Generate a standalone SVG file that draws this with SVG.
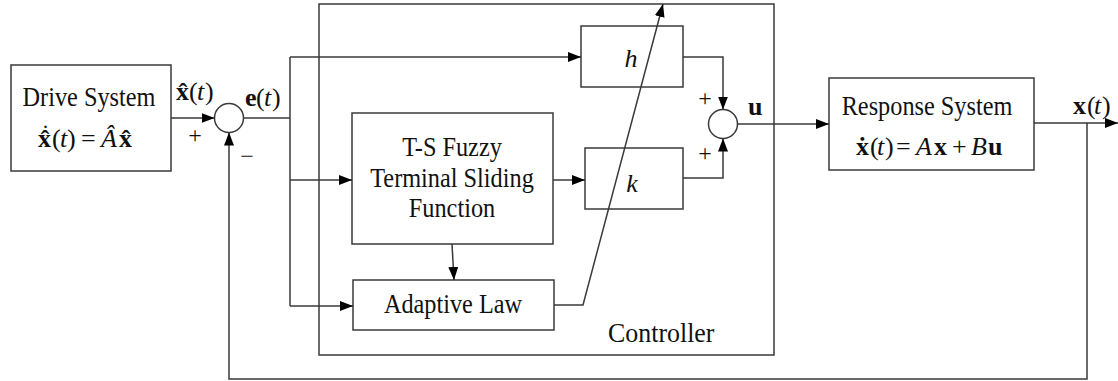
<svg xmlns="http://www.w3.org/2000/svg" width="1118" height="381" viewBox="0 0 1118 381">
<style>
.box{fill:#fff;stroke:#3a3a3a;stroke-width:1.5}
.ln{fill:none;stroke:#3a3a3a;stroke-width:1.5}
text{font-family:'Liberation Serif','Times New Roman',serif;fill:#111}
.t{font-size:27px}
.m{font-size:26px}
.p{font-size:24px}
.b{font-weight:bold}
.i{font-style:italic}
.c{text-anchor:middle}
</style>
<defs>
<marker id="ar" markerUnits="userSpaceOnUse" markerWidth="14" markerHeight="10" refX="13" refY="5" orient="auto">
<path d="M0,0 L13,5 L0,10 Z" fill="#000"/>
</marker>
</defs>
<rect width="1118" height="381" fill="#fff"/>

<g id="controller">
<rect class="ln" x="319" y="4" width="455" height="351"/>
<text class="t" transform="translate(608,342) scale(0.96,1)">Controller</text>
</g>

<g id="drive">
<rect class="box" x="11" y="65" width="160" height="106"/>
<text class="t c" transform="translate(89,106) scale(0.9,1)">Drive System</text>
<text class="m"><tspan class="b" x="38" y="147">x&#x302;</tspan><tspan x="52" y="147">(</tspan><tspan class="i" x="60" y="147">t</tspan><tspan x="67" y="147">)</tspan><tspan x="81" y="147">=</tspan><tspan class="i" x="101" y="147">A&#x302;</tspan><tspan class="b" x="119" y="147">x&#x302;</tspan></text>
<text class="c" x="45.5" y="141" font-size="24">˙</text>
</g>

<g id="sum1">
<circle class="box" cx="229" cy="118" r="14.5"/>
<text class="p c" x="195" y="143">+</text>
<text class="p c" x="247" y="164">−</text>
</g>

<g id="xhat-label">
<text class="m"><tspan class="b" x="176" y="100">x&#x302;</tspan><tspan x="189" y="100">(</tspan><tspan class="i" x="197" y="100">t</tspan><tspan x="205" y="100">)</tspan></text>
</g>

<g id="e-label">
<text class="m"><tspan class="b" x="245" y="106">e</tspan><tspan x="256" y="106">(</tspan><tspan class="i" x="264" y="106">t</tspan><tspan x="272" y="106">)</tspan></text>
</g>

<g id="h">
<rect class="box" x="581" y="26" width="102" height="61"/>
<text class="m i c" x="631" y="67">h</text>
</g>

<g id="k">
<rect class="box" x="585" y="148" width="98" height="61"/>
<text class="m i c" x="632" y="192">k</text>
</g>

<g id="ts">
<rect class="box" x="352" y="113" width="201" height="131"/>
<text class="t c" transform="translate(452,156) scale(0.9,1)">T-S Fuzzy</text>
<text class="t c" transform="translate(452,187) scale(0.9,1)">Terminal Sliding</text>
<text class="t c" transform="translate(452,217) scale(0.9,1)">Function</text>
</g>

<g id="adaptive">
<rect class="box" x="353" y="280" width="201" height="50"/>
<text class="t c" transform="translate(453,313) scale(0.9,1)">Adaptive Law</text>
</g>

<g id="sum2">
<circle class="box" cx="723" cy="124" r="14.5"/>
<text class="p c" x="705" y="106">+</text>
<text class="p c" x="705" y="161">+</text>
<text class="m b" x="748" y="115">u</text>
</g>

<g id="response">
<rect class="box" x="829" y="78" width="205" height="92"/>
<text class="t c" transform="translate(927,115) scale(0.9,1)">Response System</text>
<text class="m"><tspan class="b" x="856" y="155">x&#x307;</tspan><tspan x="870" y="155">(</tspan><tspan class="i" x="877" y="155">t</tspan><tspan x="885" y="155">)</tspan><tspan x="896" y="155">=</tspan><tspan class="i" x="916" y="155">A</tspan><tspan class="b" x="934" y="155">x</tspan><tspan x="952" y="155">+</tspan><tspan class="i" x="971" y="155">B</tspan><tspan class="b" x="988" y="155">u</tspan></text>
</g>

<g id="x-label">
<text class="m"><tspan class="b" x="1073" y="114">x</tspan><tspan x="1087" y="114">(</tspan><tspan class="i" x="1094" y="114">t</tspan><tspan x="1102" y="114">)</tspan></text>
</g>

<g id="connectors">
<line class="ln" x1="171" y1="118" x2="214.5" y2="118" marker-end="url(#ar)"/>
<line class="ln" x1="243.5" y1="118" x2="290" y2="118"/>
<line class="ln" x1="290" y1="57" x2="290" y2="306"/>
<line class="ln" x1="290" y1="57" x2="581" y2="57" marker-end="url(#ar)"/>
<line class="ln" x1="290" y1="180" x2="352" y2="180" marker-end="url(#ar)"/>
<line class="ln" x1="290" y1="306" x2="353" y2="306" marker-end="url(#ar)"/>
<line class="ln" x1="452" y1="244" x2="454" y2="280" marker-end="url(#ar)"/>
<line class="ln" x1="553" y1="180" x2="585" y2="180" marker-end="url(#ar)"/>
<polyline class="ln" points="554,305 583,305 663,4" marker-end="url(#ar)"/>
<polyline class="ln" points="683,57 723,57 723,109.5" marker-end="url(#ar)"/>
<polyline class="ln" points="683,178 723,178 723,138.5" marker-end="url(#ar)"/>
<line class="ln" x1="737.5" y1="124" x2="829" y2="124" marker-end="url(#ar)"/>
<line class="ln" x1="1034" y1="123" x2="1118" y2="123" marker-end="url(#ar)"/>
<polyline class="ln" points="1087,123 1087,379 229,379 229,132.5" marker-end="url(#ar)"/>
</g>
</svg>
